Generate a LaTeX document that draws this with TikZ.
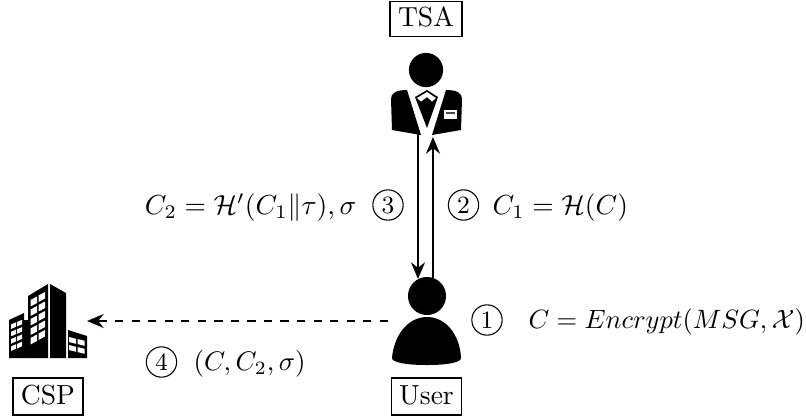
\documentclass[tikz,border=0pt]{standalone}
\usepackage{graphicx}
\usetikzlibrary{arrows.meta}
\tikzset{
  px/.style={x=0.3626pt,y=-0.3626pt},
  namebox/.style={draw,line width=0.4pt,inner sep=0pt,text height=1.5ex,text depth=0.2ex},
  lbl/.style={inner sep=0pt,anchor=base west},
  lblr/.style={inner sep=0pt,anchor=base east},
  num/.style={circle,draw,line width=0.4pt,inner sep=0pt,minimum size=11pt,font=\small},
  flow/.style={line width=1pt,-{Stealth[length=6pt,width=5pt]}},
  win/.style={fill=white,draw=none},
}
\begin{document}
\begin{tikzpicture}[px]
\useasboundingbox (0,0) rectangle (806,417);
% name boxes
\node[namebox,minimum width=26.1pt,minimum height=13pt] (tsa) at (426,19) {TSA};
\node[namebox,minimum width=25.4pt,minimum height=13.4pt] (csp) at (48,396.5) {CSP};
\node[namebox,minimum width=25.7pt,minimum height=13.4pt] (user) at (426.5,396.5) {User};
% TSA person
\node[circle,fill=black,inner sep=0pt,minimum size=12.4pt] (tsahead) at (426,70) {};
\fill (391,99) .. controls (391,93) and (396,90) .. (407,90) -- (421,135) -- (392,130) -- cycle;
\fill (462,99) .. controls (462,93) and (457,90) .. (446,90) -- (432,135) -- (461,130) -- cycle;
\fill (415,97) -- (427,90) -- (438,97) -- (427,128) -- cycle;
\fill[white] (417,98) -- (427,92) -- (436,98) -- (432,101.5) -- (427,97) -- (421,101.5) -- cycle;
\fill[white] (444,110) rectangle (457,119);
\fill[black!70] (446,111.5) rectangle (455,113.5);
\coordinate (tsal) at (418,130);
\coordinate (tsar) at (433,137);
% User person
\node[circle,fill=black,inner sep=0pt,minimum size=13.8pt] (userhead) at (427,296) {};
\fill (392,358) .. controls (394,335) and (408,317) .. (427,317)
      .. controls (446,317) and (460,335) .. (461,358)
      .. controls (461,362) and (450,365) .. (427,365)
      .. controls (404,365) and (392,362) .. (392,358) -- cycle;
\coordinate (usertl) at (418,279);
\coordinate (usertr) at (433,279);
\coordinate (userl) at (388,321);
% building
\coordinate (bld) at (87,321);
\fill (9,320) -- (24,313) -- (24,320) -- (28,320) -- (28,358) -- (9,358) -- cycle;
\fill (28,296) -- (48,284) -- (48,358) -- (28,358) -- cycle;
\fill (50,284) -- (66,293) -- (66,358) -- (50,358) -- cycle;
\fill (68,330) -- (87,336) -- (87,358) -- (68,358) -- cycle;
\foreach \c in {0,1,2,3,4}{
  \foreach \r in {0,1}{
    \fill[win] ({30.5+\r*8},{300-\r*4.5+\c*9.5}) -- ++(6.5,-3.5) -- ++(0,6.5) -- ++(-6.5,3.5) -- cycle;
  }
}
\foreach \c in {0,1,2,3}{
  \foreach \r in {0,1}{
    \fill[win] ({11+\r*6},{324.5-\r*2.5+\c*7.3}) -- ++(5,-2.2) -- ++(0,4.5) -- ++(-5,2.2) -- cycle;
  }
}
\foreach \r in {0,1}{
  \fill[win] (69,{337+\r*8}) -- ++(7,1.8) -- ++(0,5) -- ++(-7,-1.8) -- cycle;
  \fill[win] (77.5,{339+\r*8}) -- ++(7,1.8) -- ++(0,5) -- ++(-7,-1.8) -- cycle;
}
% connectors
\draw[flow] (tsal) -- (usertl);
\draw[flow] (usertr) -- (tsar);
\draw[flow,dashed] (userl) -- (bld);
% labels
\node[lblr] (l3) at (357,214) {$C_2=\mathcal{H}'(C_1\|\tau),\sigma$};
\node[num] (n3) at (388,205) {3};
\node[num] (n2) at (463.5,205) {2};
\node[lbl] (l2) at (492,214) {$C_1=\mathcal{H}(C)$};
\node[num] (n1) at (487,320) {1};
\node[lbl] (l1b) at (528,328) {\scalebox{0.96}{$C=Encrypt(MSG,\mathcal{X})$}};
\node[num] (n4) at (161.5,362) {4};
\node[lbl] (l4) at (193,370) {\scalebox{0.975}{$(C,C_2,\sigma)$}};
\end{tikzpicture}
\end{document}
